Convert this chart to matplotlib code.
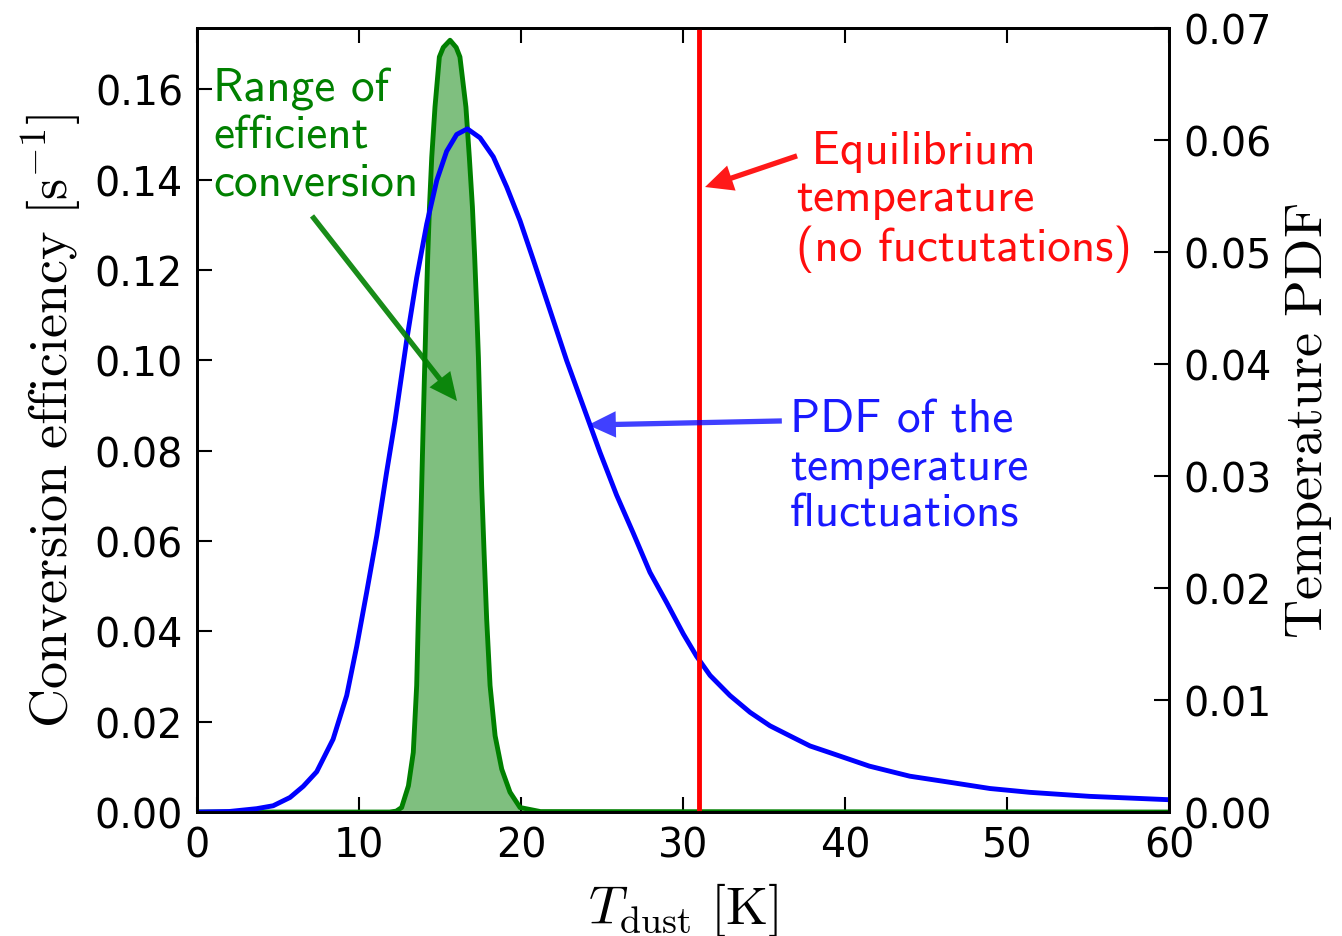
import matplotlib
matplotlib.use("Agg")
import matplotlib.pyplot as plt

# dust temperature (K) and conversion efficiency (s^-1), left axis
green_T = [0, 11.9, 12.3, 12.63, 13.05, 13.35, 13.56, 13.66, 13.77, 13.87,
           13.97, 14.07, 14.15, 14.24, 14.35, 14.49, 14.69, 14.96, 15.2, 15.62,
           16.0, 16.23, 16.6, 16.81, 17.0, 17.14, 17.26, 17.37, 17.47, 17.57,
           17.72, 17.88, 18.09, 18.4, 18.81, 19.32, 19.94, 21.2, 60]
green_eff = [0, 0, 0.0002, 0.001, 0.0058, 0.0132, 0.028, 0.0427, 0.0575, 0.0723,
             0.087, 0.1007, 0.1118, 0.1229, 0.134, 0.145, 0.1561, 0.1672, 0.1693, 0.1709,
             0.1693, 0.1672, 0.1561, 0.145, 0.134, 0.1229, 0.1118, 0.1007, 0.087, 0.0723,
             0.0575, 0.0427, 0.028, 0.0169, 0.0095, 0.0044, 0.001, 0.0001, 0]

# temperature PDF, right axis
blue_T = [0, 2, 3.68, 4.7, 5.74, 6.56, 7.39, 8.4, 9.24, 9.86,
          10.47, 11.1, 11.7, 12.22, 12.94, 13.56, 14.18, 14.8, 15.41, 16.03,
          16.69, 17.47, 18.29, 19.12, 19.94, 20.76, 21.79, 22.82, 23.85, 24.88,
          25.9, 26.93, 27.96, 28.99, 30.02, 30.84, 31.67, 32.9, 34.14, 35.37,
          36.6, 37.84, 39.07, 41.5, 44.0, 46.5, 48.95, 51.4, 55.1, 60]
blue_pdf = [0, 0.00005, 0.0003, 0.00056, 0.0013, 0.0023, 0.0036, 0.0065, 0.0104, 0.0148,
            0.0196, 0.0247, 0.0303, 0.0349, 0.0421, 0.0477, 0.0525, 0.0564, 0.059, 0.0605,
            0.061, 0.0602, 0.0585, 0.0558, 0.0528, 0.0493, 0.0448, 0.0403, 0.0362, 0.0321,
            0.0283, 0.0249, 0.0214, 0.0187, 0.0159, 0.0139, 0.0122, 0.0104, 0.0089, 0.0077,
            0.0068, 0.0059, 0.0053, 0.0041, 0.0032, 0.00265, 0.0021, 0.00176, 0.0014, 0.0011]

T_eq = 31.0

plt.rcParams['mathtext.fontset'] = 'cm'
plt.rcParams['font.family'] = 'DejaVu Sans'

fig = plt.figure(figsize=(13.42, 9.37), dpi=100)
ax1 = fig.add_axes([0.1468, 0.1323, 0.7243, 0.8367])
ax2 = ax1.twinx()

ax1.fill_between(green_T, green_eff, color='g', alpha=0.5, lw=0)
ax1.plot(green_T, green_eff, color='g', lw=3.5)
ax2.plot(blue_T, blue_pdf, color='b', lw=3.5)
ax2.axvline(T_eq, color='r', lw=3.5)

ax1.set_xlim(0, 60)
ax1.set_ylim(0, 0.1736)
ax2.set_ylim(0, 0.07)
ax1.set_xticks([0, 10, 20, 30, 40, 50, 60])
ax1.set_yticks([0, 0.02, 0.04, 0.06, 0.08, 0.10, 0.12, 0.14, 0.16])
ax1.set_yticklabels(['%.2f' % v for v in ax1.get_yticks()])
ax2.set_yticks([0, 0.01, 0.02, 0.03, 0.04, 0.05, 0.06, 0.07])
ax2.set_yticklabels(['%.2f' % v for v in ax2.get_yticks()])

for ax in (ax1, ax2):
    ax.tick_params(direction='in', length=11, width=1.5, pad=10, labelsize=28.5)
    for s in ax.spines.values():
        s.set_linewidth(2)
ax1.tick_params(axis='x', top=True)

ax1.set_xlabel(r'$T_\mathrm{dust}\ [\mathrm{K}]$', fontsize=39, labelpad=10)
ax1.set_ylabel(r'$\mathrm{Conversion\ efficiency\ [s^{-1}]}$', fontsize=39, labelpad=8)
ax2.set_ylabel(r'$\mathrm{Temperature\ PDF}$', fontsize=39, labelpad=8)

# annotations (positions in left-axis data units)
tf = dict(family='cmss10', fontsize=34, linespacing=1.15, va='top', ha='left')
ax2.text(1.0, 0.1650, 'Range of\nefficient\nconversion', color='g',
         transform=ax1.transData, **tf)
ax2.text(37.0, 0.1510, ' Equilibrium\ntemperature\n(no fuctutations)', color='r',
         alpha=0.95, transform=ax1.transData, **tf)
ax2.text(36.6, 0.0915, 'PDF of the\ntemperature\nfluctuations', color='b',
         alpha=0.9, transform=ax1.transData, **tf)

def arrow(tip, tail, color, alpha):
    ax2.annotate('', xy=tip, xycoords=ax1.transData, xytext=tail,
                 textcoords=ax1.transData,
                 arrowprops=dict(facecolor=color, edgecolor='none', alpha=alpha,
                                 width=3.8, headwidth=19, headlength=20, shrink=0))

arrow((16.05, 0.091), (7.1, 0.132), 'g', 0.9)
arrow((31.36, 0.1384), (37.04, 0.1453), 'r', 0.9)
arrow((24.14, 0.0857), (36.1, 0.0866), 'b', 0.75)

fig.savefig('out.png', dpi=100)
